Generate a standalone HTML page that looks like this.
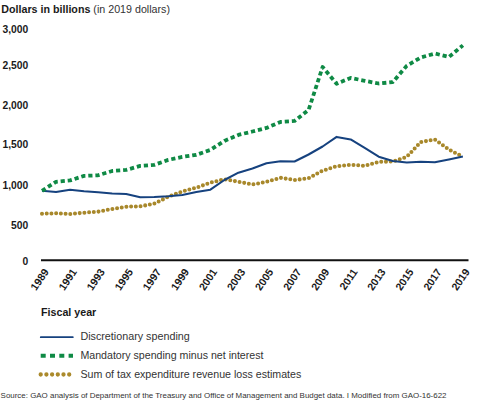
<!DOCTYPE html>
<html><head><meta charset="utf-8">
<style>
html,body{margin:0;padding:0;background:#fff;}
body{width:480px;height:402px;overflow:hidden;position:relative;font-family:"Liberation Sans",sans-serif;color:#1a1a1a;}

</style></head><body>
<svg width="480" height="402" style="position:absolute;left:0;top:0">
<g font-family="Liberation Sans, sans-serif" fill="#1a1a1a">
<text x="1.3" y="12.8" font-size="10.7" font-weight="bold">Dollars in billions <tspan font-weight="normal" fill="#333">(in 2019 dollars)</tspan></text>
<text x="28.3" y="32.90" font-size="10.3" font-weight="bold" text-anchor="end">3,000</text>
<text x="28.3" y="69.30" font-size="10.3" font-weight="bold" text-anchor="end">2,500</text>
<text x="28.3" y="108.60" font-size="10.3" font-weight="bold" text-anchor="end">2,000</text>
<text x="28.3" y="148.40" font-size="10.3" font-weight="bold" text-anchor="end">1,500</text>
<text x="28.3" y="188.60" font-size="10.3" font-weight="bold" text-anchor="end">1,000</text>
<text x="28.3" y="229.00" font-size="10.3" font-weight="bold" text-anchor="end">500</text>
<text x="28.3" y="264.90" font-size="10.3" font-weight="bold" text-anchor="end">0</text>
</g>
<line x1="41" y1="260.3" x2="468.5" y2="260.3" stroke="#111" stroke-width="2"/>
<g font-family="Liberation Sans, sans-serif" font-size="10.6" font-weight="bold" fill="#1a1a1a">
<text x="49.30" y="271.8" text-anchor="end" transform="rotate(-56 49.30 271.8)">1989</text>
<text x="77.36" y="271.8" text-anchor="end" transform="rotate(-56 77.36 271.8)">1991</text>
<text x="105.42" y="271.8" text-anchor="end" transform="rotate(-56 105.42 271.8)">1993</text>
<text x="133.48" y="271.8" text-anchor="end" transform="rotate(-56 133.48 271.8)">1995</text>
<text x="161.54" y="271.8" text-anchor="end" transform="rotate(-56 161.54 271.8)">1997</text>
<text x="189.60" y="271.8" text-anchor="end" transform="rotate(-56 189.60 271.8)">1999</text>
<text x="217.66" y="271.8" text-anchor="end" transform="rotate(-56 217.66 271.8)">2001</text>
<text x="245.72" y="271.8" text-anchor="end" transform="rotate(-56 245.72 271.8)">2003</text>
<text x="273.78" y="271.8" text-anchor="end" transform="rotate(-56 273.78 271.8)">2005</text>
<text x="301.84" y="271.8" text-anchor="end" transform="rotate(-56 301.84 271.8)">2007</text>
<text x="329.90" y="271.8" text-anchor="end" transform="rotate(-56 329.90 271.8)">2009</text>
<text x="357.96" y="271.8" text-anchor="end" transform="rotate(-56 357.96 271.8)">2011</text>
<text x="386.02" y="271.8" text-anchor="end" transform="rotate(-56 386.02 271.8)">2013</text>
<text x="414.08" y="271.8" text-anchor="end" transform="rotate(-56 414.08 271.8)">2015</text>
<text x="442.14" y="271.8" text-anchor="end" transform="rotate(-56 442.14 271.8)">2017</text>
<text x="470.20" y="271.8" text-anchor="end" transform="rotate(-56 470.20 271.8)">2019</text>
</g>
<polyline points="42.00,213.70 56.03,213.30 70.06,214.00 84.09,212.70 98.12,211.70 112.15,209.00 126.18,206.70 140.21,206.30 154.24,203.70 168.27,196.70 182.30,191.50 196.33,187.70 210.36,182.70 224.39,179.30 238.42,181.70 252.45,184.50 266.48,181.80 280.51,177.80 294.54,180.00 308.57,178.30 322.60,170.70 336.63,166.20 350.66,164.80 364.69,165.80 378.72,161.80 392.75,161.50 406.78,156.80 420.81,142.00 434.84,139.60 448.87,149.50 462.90,156.80" fill="none" stroke="#a8882b" stroke-width="4.05" stroke-linecap="round" stroke-dasharray="0 4.72" stroke-linejoin="round"/>
<polyline points="42.00,190.80 56.03,192.00 70.06,189.80 84.09,191.20 98.12,192.20 112.15,193.40 126.18,194.10 140.21,197.30 154.24,197.10 168.27,196.30 182.30,195.00 196.33,192.00 210.36,189.70 224.39,180.00 238.42,172.70 252.45,168.50 266.48,163.30 280.51,161.30 294.54,161.50 308.57,154.50 322.60,146.50 336.63,136.90 350.66,139.40 364.69,147.90 378.72,156.70 392.75,161.00 406.78,162.40 420.81,161.80 434.84,162.20 448.87,159.40 462.90,156.60" fill="none" stroke="#16427f" stroke-width="2.05" stroke-linejoin="round"/>
<polyline points="42.00,190.80 56.03,181.80 70.06,180.40 84.09,175.90 98.12,175.30 112.15,171.00 126.18,169.90 140.21,165.90 154.24,164.90 168.27,159.90 182.30,156.90 196.33,154.80 210.36,149.90 224.39,140.90 238.42,134.90 252.45,131.50 266.48,127.90 280.51,121.90 294.54,120.90 308.57,110.00 322.60,67.00 336.63,83.80 350.66,77.90 364.69,80.80 378.72,83.50 392.75,82.10 406.78,65.80 420.81,57.50 434.84,53.50 448.87,57.00 462.90,45.40" fill="none" stroke="#0f8a45" stroke-width="3.8" stroke-dasharray="4.2 2.9" stroke-linejoin="round"/>
<line x1="40.8" y1="337.2" x2="72.8" y2="337.2" stroke="#16427f" stroke-width="1.8" stroke-linecap="round"/>
<line x1="40.7" y1="355.8" x2="73" y2="355.8" stroke="#0f8a45" stroke-width="4" stroke-dasharray="5 4.3"/>
<line x1="40.7" y1="374.5" x2="73" y2="374.5" stroke="#ab8a2c" stroke-width="4.3" stroke-linecap="round" stroke-dasharray="0 5.7"/>
<g font-family="Liberation Sans, sans-serif" fill="#333">
<text x="41" y="316.1" font-size="10.7" font-weight="bold" fill="#1a1a1a">Fiscal year</text>
<text x="80.4" y="340.1" font-size="10.75">Discretionary spending</text>
<text x="80.4" y="359.1" font-size="10.63">Mandatory spending minus net interest</text>
<text x="80.4" y="377.8" font-size="10.64">Sum of tax expenditure revenue loss estimates</text>
<text x="0.6" y="398" font-size="7.95">Source: GAO analysis of Department of the Treasury and Office of Management and Budget data. I Modified from GAO-16-622</text>
</g>
</svg>
</body></html>
